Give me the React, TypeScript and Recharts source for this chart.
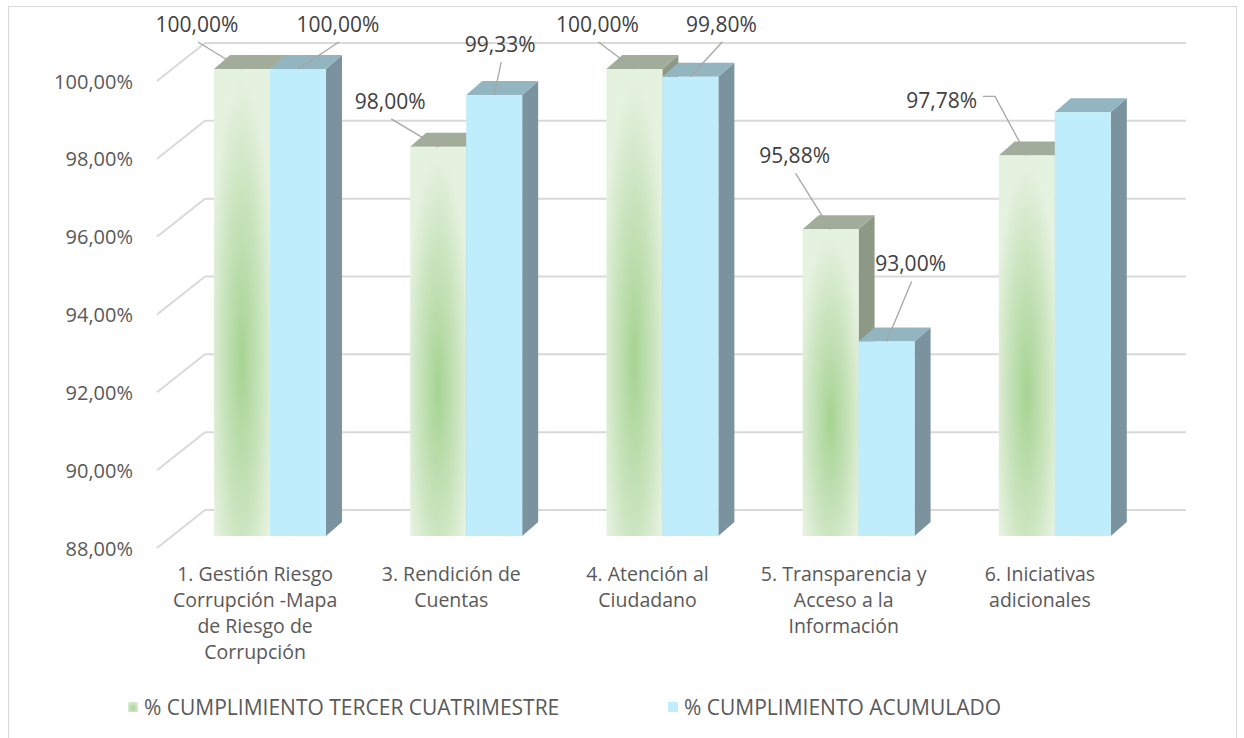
import { BarChart, Bar, XAxis, YAxis, CartesianGrid, Legend, LabelList } from "recharts";

// categories (wrapped the way the original axis shows them)
const categoryLines = [
  ["1. Gestión Riesgo", "Corrupción -Mapa", "de Riesgo de", "Corrupción"],
  ["3. Rendición de", "Cuentas"],
  ["4. Atención al", "Ciudadano"],
  ["5. Transparencia y", "Acceso a la", "Información"],
  ["6. Iniciativas", "adicionales"],
];
const tercer = [100, 98, 100, 95.88, 97.78];
const acumulado = [100, 99.33, 99.8, 93, 98.89];
const yTicks = [88, 90, 92, 94, 96, 98, 100];

const seriesNames = ["% CUMPLIMIENTO TERCER CUATRIMESTRE", "% CUMPLIMIENTO ACUMULADO"];

// where each data label sits, relative to the top of its bar (null = no label)
const tercerLabelPos: ([number, number] | null)[] = [[-45, -45], [-48, -46], [-37, -45], [-36, -74], [-85, -55]];
const acumuladoLabelPos: ([number, number] | null)[] = [[40, -45], [6, -51], [31, -53], [24, -78], null];

const data = categoryLines.map((lines, i) => ({
  name: lines.join(" "),
  tercer: tercer[i],
  acumulado: acumulado[i],
}));

const FONT = "'Open Sans', 'Noto Sans', sans-serif";
const DX = 16; // bar depth
const DY = 14;
const FRONT = { dx: -15, dy: 12 }; // floor front edge relative to bar plane
const BACK = { dx: 33, dy: -26 }; // back wall relative to bar plane

const fmt = (v: number) => v.toFixed(2).replace(".", ",") + "%";

function makeBox(front: string, top: string, side: string) {
  return (props: any) => {
    const { x, y, width: w, height: h } = props;
    if (w == null || h == null) return null;
    return (
      <g>
        <polygon
          points={`${x + w},${y} ${x + w + DX},${y - DY} ${x + w + DX},${y + h - DY} ${x + w},${y + h}`}
          fill={side}
        />
        <polygon points={`${x},${y} ${x + DX},${y - DY} ${x + w + DX},${y - DY} ${x + w},${y}`} fill={top} />
        <rect x={x} y={y} width={w} height={h} fill={front} />
      </g>
    );
  };
}

function makeLabel(positions: ([number, number] | null)[]) {
  return (props: any) => {
    const { x, y, width, value, index } = props;
    const pos = positions[index];
    if (!pos) return null;
    const ax = x + width / 2;
    const ay = y;
    const tx = ax + pos[0];
    const ty = y + pos[1];
    const text = fmt(Number(value));
    let line;
    if (Math.abs(pos[0]) > 60) {
      const sx = tx + text.length * 6.2 + 4;
      const sy = ty - 4;
      line = <polyline points={`${sx},${sy} ${sx + 12},${sy} ${ax},${ay}`} fill="none" stroke="#a6a6a6" strokeWidth={1.3} />;
    } else {
      line = <line x1={tx + 1} y1={ty + 18} x2={ax} y2={ay} stroke="#a6a6a6" strokeWidth={1.3} />;
    }
    return (
      <g>
        {line}
        <text x={tx} y={ty} textAnchor="middle" dominantBaseline="central" fontFamily={FONT} fontSize={21} fill="#404040">
          {text}
        </text>
      </g>
    );
  };
}

const YTick = (props: any) => {
  const { x, y, payload } = props;
  return (
    <text x={x - 39} y={y + FRONT.dy} textAnchor="end" dominantBaseline="central" fontFamily={FONT} fontSize={20} fill="#595959">
      {fmt(payload.value)}
    </text>
  );
};

const XTick = (props: any) => {
  const { x, y, index } = props;
  const lines = categoryLines[index] || [];
  return (
    <g>
      {lines.map((t, i) => (
        <text key={i} x={x + FRONT.dx} y={y + 37 + i * 26.3} textAnchor="middle" dominantBaseline="central" fontFamily={FONT} fontSize={19.5} fill="#595959">
          {t}
        </text>
      ))}
    </g>
  );
};

const GridLine = (props: any) => {
  const { x1, x2, y1 } = props;
  return (
    <g key={props.key}>
      <line x1={x1 + FRONT.dx} y1={y1 + FRONT.dy} x2={x1 + BACK.dx} y2={y1 + BACK.dy} stroke="#d9d9d9" strokeWidth={2} />
      <line x1={x1 + BACK.dx} y1={y1 + BACK.dy} x2={x2 + BACK.dx} y2={y1 + BACK.dy} stroke="#d9d9d9" strokeWidth={2} />
    </g>
  );
};

const greenSwatch = "radial-gradient(ellipse at 50% 60%, #a8d495 0%, #cfe6c5 60%, #e4f1de 100%)";
const legendX = [128, 668];
const swatches = [greenSwatch, "#bfedfb"];

const LegendContent = () => (
  <div style={{ position: "relative", width: 1244, height: 30, fontFamily: FONT, fontSize: 21, color: "#595959" }}>
    {seriesNames.map((n, i) => (
      <div key={n} style={{ position: "absolute", left: legendX[i], top: 0, height: 30, display: "flex", alignItems: "center" }}>
        <span style={{ display: "inline-block", width: 10, height: 10, background: swatches[i], marginRight: 6 }} />
        <span style={{ whiteSpace: "nowrap" }}>{n}</span>
      </div>
    ))}
  </div>
);

export default function App() {
  return (
    <div style={{ position: "absolute", left: 0, top: 0, width: 1244, height: 738, background: "#fff", fontFamily: FONT }}>
      <div style={{ position: "absolute", left: 8, top: 6, width: 1229, height: 740, border: "1px solid #d9d9d9", boxSizing: "border-box" }} />
      <BarChart
        width={1244}
        height={738}
        data={data}
        margin={{ top: 69, right: 91, left: 72, bottom: 42 }}
        barCategoryGap="21.4%"
        barGap={0}
      >
        <defs>
          <radialGradient id="greenFront" cx="0.5" cy="0.62" r="0.6" fx="0.5" fy="0.62">
            <stop offset="0%" stopColor="#a6d392" />
            <stop offset="55%" stopColor="#c8e3bc" />
            <stop offset="100%" stopColor="#e6f2e0" />
          </radialGradient>
        </defs>
        <CartesianGrid vertical={false} horizontal={GridLine as any} />
        <XAxis dataKey="name" tick={XTick} tickLine={false} axisLine={false} tickSize={0} tickMargin={0} height={130} interval={0} />
        <YAxis domain={[88, 100]} ticks={yTicks} tick={YTick} tickLine={false} axisLine={false} tickSize={0} tickMargin={0} width={100} />
        <Legend verticalAlign="bottom" content={LegendContent} wrapperStyle={{ top: 692, bottom: "auto", left: 0, width: 1244, height: 30 }} />
        <Bar dataKey="tercer" name={seriesNames[0]} fill="#cfe6c5" shape={makeBox("url(#greenFront)", "#a1ad9a", "#8d9887")} isAnimationActive={false}>
          <LabelList dataKey="tercer" content={makeLabel(tercerLabelPos)} />
        </Bar>
        <Bar dataKey="acumulado" name={seriesNames[1]} fill="#bfedfb" shape={makeBox("#bfedfb", "#92b5c0", "#7b939e")} isAnimationActive={false}>
          <LabelList dataKey="acumulado" content={makeLabel(acumuladoLabelPos)} />
        </Bar>
      </BarChart>
    </div>
  );
}
